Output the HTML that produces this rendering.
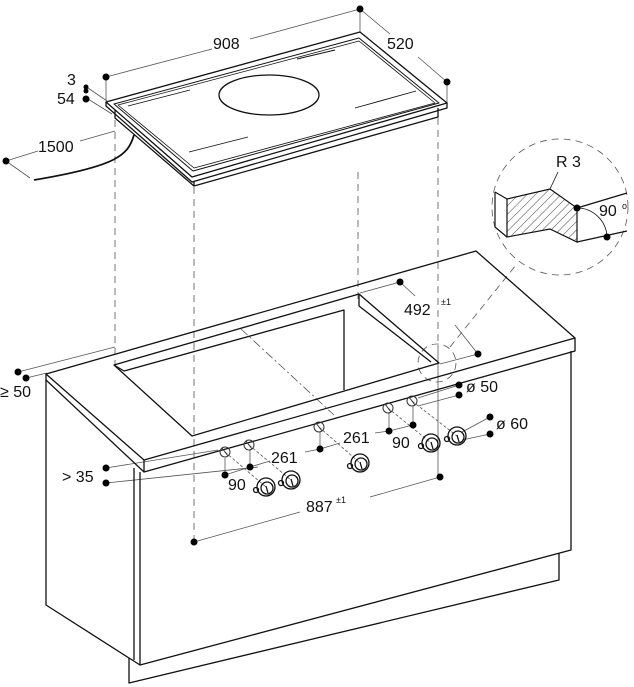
<!DOCTYPE html>
<html><head><meta charset="utf-8"><style>
html,body{margin:0;padding:0;background:#fff}
svg{display:block}
text{font-family:"Liberation Sans",sans-serif;fill:#111}
</style></head><body>
<svg width="634" height="687" viewBox="0 0 634 687" xmlns="http://www.w3.org/2000/svg">
<defs>
<pattern id="h" width="6" height="6" patternUnits="userSpaceOnUse" patternTransform="rotate(45)">
<line x1="0" y1="0" x2="0" y2="6" stroke="#222" stroke-width="0.8"/></pattern>
</defs>
<g fill="none" stroke="#555" stroke-width="0.8">
<line x1="106" y1="77" x2="212" y2="49"/><line x1="250" y1="39" x2="360" y2="9"/>
<line x1="106" y1="77" x2="106" y2="100"/><line x1="360" y1="9" x2="360" y2="32"/>
<line x1="360" y1="9" x2="390" y2="34"/><line x1="418" y1="57" x2="447" y2="82"/><line x1="447" y1="82" x2="447" y2="103"/>
<line x1="88" y1="88" x2="107" y2="101"/><line x1="88" y1="99" x2="112" y2="114"/>
<line x1="6" y1="161" x2="38" y2="151"/><line x1="80" y1="141" x2="115" y2="131"/><line x1="6" y1="161" x2="30" y2="178"/>
<g stroke-dasharray="7,5">
<line x1="115" y1="120" x2="115" y2="365"/><line x1="194" y1="187" x2="194" y2="542"/>
<line x1="358" y1="172" x2="358" y2="300"/><line x1="438" y1="118" x2="438" y2="345"/>
<line x1="450" y1="347" x2="516" y2="265"/>
<circle cx="560" cy="207" r="68"/><circle cx="437" cy="363" r="19"/>
</g>
<line x1="241" y1="329" x2="334" y2="415" stroke-dasharray="9,3,2,3"/>
<line x1="438" y1="345" x2="438" y2="477"/>
<line x1="400" y1="282" x2="415" y2="296"/><line x1="455" y1="325" x2="478" y2="354"/>
<line x1="360" y1="293" x2="400" y2="282"/><line x1="440" y1="364" x2="478" y2="354"/>
<line x1="194" y1="542" x2="300" y2="512"/><line x1="370" y1="497" x2="440" y2="477"/>
<line x1="18" y1="372" x2="115" y2="347"/><line x1="26" y1="378" x2="47" y2="373"/>
<line x1="106" y1="468" x2="218" y2="450"/><line x1="106" y1="483" x2="258" y2="467"/>
<line x1="225" y1="458" x2="225" y2="475"/><line x1="250" y1="450" x2="250" y2="467"/>
<line x1="320" y1="432" x2="320" y2="449"/><line x1="389" y1="413" x2="389" y2="431"/><line x1="413" y1="406" x2="413" y2="425"/>
<line x1="225" y1="475" x2="250" y2="467"/><line x1="250" y1="467" x2="270" y2="461"/><line x1="305" y1="452" x2="320" y2="449"/>
<line x1="320" y1="449" x2="340" y2="443"/><line x1="375" y1="433" x2="389" y2="431"/><line x1="389" y1="431" x2="413" y2="425"/>
<line x1="418" y1="398" x2="459" y2="385"/><line x1="418" y1="406" x2="459" y2="395"/>
<line x1="462" y1="432" x2="490" y2="417"/><line x1="462" y1="440" x2="490" y2="434"/>
<g stroke-dasharray="3,2"><line x1="225" y1="452" x2="266" y2="487"/><line x1="249" y1="445" x2="291" y2="480"/>
<line x1="319" y1="427" x2="360" y2="463"/><line x1="388" y1="408" x2="431" y2="443"/><line x1="412" y1="401" x2="457" y2="436"/></g>
</g>
<g fill="none" stroke="#111" stroke-width="1.3" stroke-linejoin="round">
<polygon points="106,102 360,32 447,103 192,177"/>
<polygon points="114,104 359,38 439,103 193,171" stroke-width="1"/>
<polygon points="118,105 359,41 435,103 194,168" stroke-width="0.8"/>
<polyline points="106,102 106,106 192,182 447,108 447,103"/>
<polyline points="115,110 115,118 194,186 438,117 438,108"/>
<line x1="194" y1="182" x2="194" y2="186"/>
<ellipse cx="269" cy="95" rx="50" ry="20"/>
<g stroke-width="0.9"><line x1="128" y1="106" x2="190" y2="90"/><line x1="297" y1="59" x2="335" y2="50"/><line x1="355" y1="108" x2="416" y2="91"/><line x1="189" y1="152" x2="248" y2="137"/></g>
<path d="M134 135 C128 155 118 166 34 180" stroke-width="1.8"/>
<polygon points="46,374 476,251 575,338 144,460"/>
<polyline points="46,374 46,380 144,472 575,351 575,338"/>
<line x1="144" y1="460" x2="144" y2="472"/>
<polygon points="114,365 359,294 439,363 192,436"/>
<polyline points="124,371 344,310 344,390"/>
<line x1="359" y1="306" x2="431" y2="362"/>
<line x1="359" y1="294" x2="359" y2="306"/>
<line x1="124" y1="371" x2="114" y2="365"/>
<polyline points="46,380 46,605 129,658 129,683 559,580 559,553"/>
<polyline points="140,472 140,665 571,550 571,351"/>
<line x1="134" y1="468" x2="134" y2="660"/>
<line x1="129" y1="658" x2="140" y2="665"/>
</g>
<g stroke="#111" stroke-width="1.2" fill="none">
<polygon points="507,199 550,189 577,208 577,242 550,229 507,237" fill="url(#h)"/>
<line x1="495" y1="192" x2="507" y2="199"/><line x1="495" y1="227" x2="507" y2="237"/><line x1="495" y1="192" x2="495" y2="227"/>
<line x1="577" y1="208" x2="627" y2="193"/><line x1="577" y1="242" x2="627" y2="231"/>
<line x1="558" y1="172" x2="550" y2="189" stroke-width="0.8"/>
<path d="M577 208 A30 30 0 0 1 607 237" stroke-width="0.8"/>
</g>
<g fill="none" stroke="#333" stroke-width="1">
<g id="s"><circle cx="225" cy="452" r="5"/><line x1="222" y1="448" x2="228" y2="456"/></g>
<use href="#s" x="24" y="-7"/><use href="#s" x="94" y="-25"/><use href="#s" x="163" y="-44"/><use href="#s" x="187" y="-51"/>
<g id="k" stroke="#111" stroke-width="1.3"><circle cx="266" cy="487" r="9"/><circle cx="267" cy="488" r="6"/><line x1="266" y1="486" x2="268" y2="493"/><circle cx="256" cy="490" r="2.5"/></g>
<use href="#k" x="25" y="-7"/><use href="#k" x="94" y="-24"/><use href="#k" x="165" y="-44"/><use href="#k" x="191" y="-51"/>
</g>
<g fill="#000">
<circle cx="106" cy="77" r="3.5"/><circle cx="360" cy="9" r="3.5"/><circle cx="447" cy="82" r="3.5"/>
<circle cx="86" cy="87" r="2.5"/><circle cx="86" cy="91" r="2.5"/><circle cx="86" cy="99" r="3.5"/>
<circle cx="6" cy="161" r="3.5"/>
<circle cx="400" cy="282" r="3.5"/><circle cx="478" cy="354" r="3.5"/>
<circle cx="18" cy="372" r="3.5"/><circle cx="26" cy="378" r="3.5"/>
<circle cx="106" cy="468" r="3.5"/><circle cx="106" cy="483" r="3.5"/>
<circle cx="225" cy="475" r="3.5"/><circle cx="250" cy="467" r="3.5"/><circle cx="320" cy="449" r="3.5"/>
<circle cx="389" cy="431" r="3.5"/><circle cx="413" cy="425" r="3.5"/>
<circle cx="459" cy="385" r="3.5"/><circle cx="459" cy="395" r="3.5"/>
<circle cx="490" cy="417" r="3.5"/><circle cx="490" cy="434" r="3.5"/>
<circle cx="194" cy="542" r="3.5"/><circle cx="440" cy="477" r="3.5"/>
<circle cx="577" cy="208" r="3.5"/><circle cx="607" cy="237" r="3.5"/>
</g>
<g font-size="16">
<text x="213" y="49">908</text><text x="387" y="49">520</text>
<text x="67" y="85">3</text><text x="57" y="104">54</text>
<text x="38" y="152">1500</text>
<text x="404" y="315">492</text><text x="441" y="305" font-size="9">±1</text>
<text x="0" y="397">≥ 50</text><text x="62" y="482">&gt; 35</text>
<text x="228" y="490">90</text><text x="271" y="463">261</text><text x="343" y="443">261</text><text x="392" y="448">90</text>
<text x="466" y="392">ø 50</text><text x="496" y="429">ø 60</text>
<text x="306" y="512">887</text><text x="336" y="503" font-size="9">±1</text>
<text x="556" y="167">R 3</text><text x="599" y="216">90</text><text x="622" y="209" font-size="9">o</text>
</g>
</svg>
</body></html>
